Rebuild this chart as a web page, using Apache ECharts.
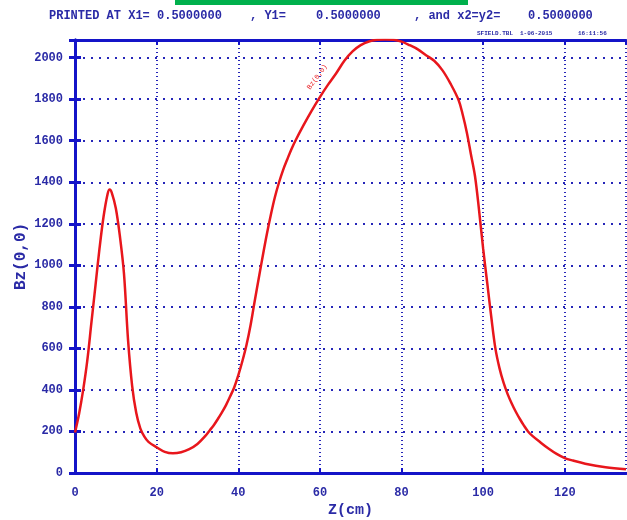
<!DOCTYPE html>
<html>
<head>
<meta charset="utf-8">
<script src="https://cdn.jsdelivr.net/npm/echarts@6/dist/echarts.min.js"></script>
<style>
  html, body { margin: 0; padding: 0; background: #fff; }
  #chart { width: 627px; height: 520px; }
</style>
</head>
<body>
<div id="chart"></div>
<script>
// Bz(0,0) along z
let zValues = [0, 1, 2, 3, 4, 5, 6, 7, 8, 8.5, 9, 10, 11, 12, 13, 14, 15, 16, 17, 18,
  20, 22, 24, 26, 28, 30, 32, 33, 34, 35, 36, 37, 38, 39, 40, 41, 42, 43, 44, 45,
  46, 47, 48, 49, 50, 51, 52, 53, 54, 56, 58, 60, 62, 64, 66, 68, 70, 72, 74, 76,
  78, 80, 82, 84, 86, 88, 90, 92, 94, 95, 96, 97, 98, 99, 100, 101, 102, 103, 104, 105,
  106, 107, 108, 109, 110, 111, 112, 114, 116, 118, 120, 122, 125, 130, 135]
let bzValues = [195, 285, 400, 540, 720, 900, 1080, 1235, 1345, 1365, 1350, 1275, 1140, 960, 640, 420, 290, 215, 175, 150,
  124, 102, 95, 100, 115, 140, 180, 205, 230, 260, 292, 327, 368, 412, 470, 538, 615, 710, 825, 935,
  1045, 1150, 1245, 1330, 1400, 1460, 1510, 1558, 1600, 1675, 1745, 1810, 1870, 1925, 1985, 2030, 2060, 2078, 2086, 2088,
  2086, 2077, 2060, 2040, 2012, 1985, 1940, 1875, 1795, 1725, 1640, 1535, 1430, 1265, 1080, 915, 750, 600, 505, 435,
  380, 335, 295, 260, 228, 200, 180, 148, 118, 92, 72, 60, 45, 28, 18]
let xTicks = [0, 20, 40, 60, 80, 100, 120]
let yTicks = [0, 200, 400, 600, 800, 1000, 1200, 1400, 1600, 1800, 2000]

let blue = '#1414c8'
let textBlue = '#2a2aa6'
let mono = 'Liberation Mono'

let curve = zValues.map((z, i) => [z, bzValues[i]])

function xAxisOf(position, labels) {
  return {
    type: 'value',
    position: position,
    min: 0,
    max: 135,
    interval: xTicks[1] - xTicks[0],
    axisLine: { show: true, onZero: false, lineStyle: { color: blue, width: 3 } },
    axisTick: { show: true, inside: true, length: 5, lineStyle: { color: blue, width: 2 } },
    axisLabel: {
      show: labels, margin: 14, color: textBlue, fontFamily: mono, fontWeight: 'bold', fontSize: 12,
      showMaxLabel: false, formatter: v => String(v)
    },
    splitLine: { show: labels, lineStyle: { color: '#2626b8', width: 2, type: [1, 3] } }
  }
}

function yAxisOf(position, labels) {
  return {
    type: 'value',
    position: position,
    min: 0,
    max: 2085,
    interval: yTicks[1] - yTicks[0],
    axisLine: { show: true, lineStyle: { color: blue, width: 3 } },
    axisTick: { show: true, inside: true, length: 6, lineStyle: { color: blue, width: 3 } },
    axisLabel: {
      show: labels, margin: 12, color: textBlue, fontFamily: mono, fontWeight: 'bold', fontSize: 12,
      showMaxLabel: false, formatter: v => String(v)
    },
    splitLine: { show: labels, lineStyle: { color: '#2626b8', width: 2, type: [2, 6] } }
  }
}

let bottomX = xAxisOf('bottom', true)
bottomX.name = 'Z(cm)'
bottomX.nameLocation = 'middle'
bottomX.nameGap = 30
bottomX.nameMoveOverlap = false
bottomX.nameTextStyle = { color: textBlue, fontFamily: mono, fontWeight: 'bold', fontSize: 15 }

let leftY = yAxisOf('left', true)
leftY.name = 'Bz(0,0)'
leftY.nameLocation = 'middle'
leftY.nameGap = 46
leftY.nameMoveOverlap = false
leftY.nameTextStyle = { color: textBlue, fontFamily: mono, fontWeight: 'bold', fontSize: 16 }

let topStyle = { fill: textBlue, font: 'bold 12px "Liberation Mono"', textVerticalAlign: 'middle' }
let smallStyle = { fill: textBlue, font: 'bold 6px "Liberation Mono"', textVerticalAlign: 'middle' }

let option = {
  animation: false,
  backgroundColor: '#ffffff',
  grid: { left: 75, right: 1, top: 40, bottom: 47, containLabel: false, outerBoundsMode: 'none' },
  xAxis: [bottomX, xAxisOf('top', false)],
  yAxis: [leftY, yAxisOf('right', false)],
  series: [
    {
      type: 'line',
      data: curve,
      smooth: 0.35,
      showSymbol: false,
      lineStyle: { color: '#e8161c', width: 2.5 },
      z: 5
    }
  ],
  graphic: [
    { type: 'rect', left: 175, top: 0, shape: { width: 293, height: 5 }, style: { fill: '#00b04c' } },
    { type: 'text', x: 49, y: 16, style: Object.assign({ text: 'PRINTED AT X1= 0.5000000' }, topStyle) },
    { type: 'text', x: 250, y: 16, style: Object.assign({ text: ', Y1=' }, topStyle) },
    { type: 'text', x: 316, y: 16, style: Object.assign({ text: '0.5000000' }, topStyle) },
    { type: 'text', x: 414, y: 16, style: Object.assign({ text: ', and x2=y2=' }, topStyle) },
    { type: 'text', x: 528, y: 16, style: Object.assign({ text: '0.5000000' }, topStyle) },
    { type: 'text', x: 477, y: 33, style: Object.assign({ text: 'SFIELD.TBL' }, smallStyle) },
    { type: 'text', x: 520, y: 33, style: Object.assign({ text: '1-06-2015' }, smallStyle) },
    { type: 'text', x: 578, y: 33, style: Object.assign({ text: '16:11:56' }, smallStyle) },
    {
      type: 'text', x: 320, y: 79, rotation: 0.94,
      style: { text: 'Bz(0,0)', fill: '#e8161c', font: '7px "Liberation Mono"', textAlign: 'center', textVerticalAlign: 'bottom' }
    }
  ]
}

let chart = echarts.init(document.getElementById('chart'))
chart.setOption(option)
</script>
</body>
</html>
